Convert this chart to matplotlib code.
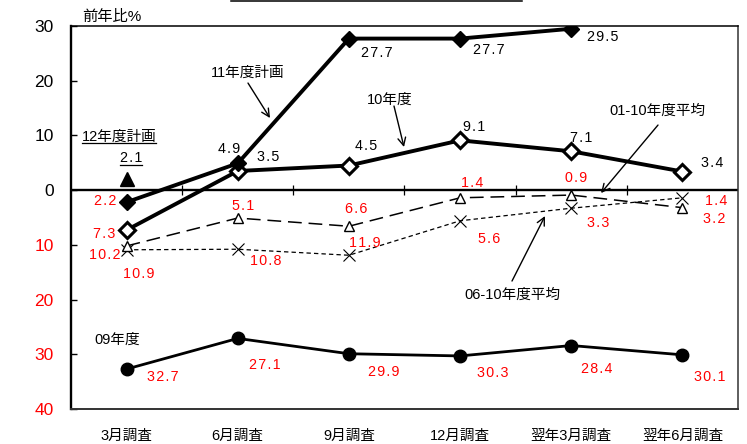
import matplotlib
matplotlib.use('Agg')
import matplotlib.pyplot as plt
import numpy as np
from matplotlib.lines import Line2D

plt.rcParams['font.family'] = ['Liberation Sans', 'Noto Sans CJK JP', 'DejaVu Sans']

# ---------------- data ----------------
categories = ['3月調査', '6月調査', '9月調査', '12月調査', '翌年3月調査', '翌年6月調査']
plan11 = [-2.2, 4.9, 27.7, 27.7, 29.5]
fy10 = [-7.3, 3.5, 4.5, 9.1, 7.1, 3.4]
avg0110 = [-10.2, -5.1, -6.6, -1.4, -0.9, -3.2]
avg0610 = [-10.9, -10.8, -11.9, -5.6, -3.3, -1.4]
fy09 = [-32.7, -27.1, -29.9, -30.3, -28.4, -30.1]
plan12 = [2.1]
yticks = [30, 20, 10, 0, -10, -20, -30, -40]

# label offsets (pixels, dx, dy up) for value labels
off_plan11 = [(-21, 2), (-9, 15), (28, -13), (29, -10), (31, -7)]
off_fy10 = [(-22, -3), (30, 15), (17, 21), (14, 14), (10, 14), (30, 10)]
off_avg0110 = [(-22, -8), (5, 13), (7, 18), (12, 16), (5, 18), (32, -10)]
off_avg0610 = [(12, -23), (28, -11), (16, 13), (29, -17), (27, -14), (34, -2)]
off_fy09 = [(36, -7), (27, -26), (35, -17), (33, -16), (25, -22), (27, -21)]

RED = '#FF0000'
SP = '\u200a'

fig = plt.figure(figsize=(7.47, 4.44), dpi=100)
ax = fig.add_axes([71 / 747, 1 - 409 / 444, (738 - 71) / 747, (409 - 26) / 444])
ax.set_xlim(-0.5, len(categories) - 0.5)
ax.set_ylim(-40, 30)

x_all = np.arange(len(categories))

# zero line + ticks on it
ax.axhline(0, color='black', lw=1.7, zorder=2)
ax.vlines(x_all[:-1] + 0.5, -0.9, 0.9, color='black', lw=0.9, zorder=2)

# series
ax.plot(x_all, avg0610, color='black', lw=0.9, dashes=(3.5, 2.5),
        marker='x', ms=8, mew=0.8, zorder=3)
ax.plot(x_all, avg0110, color='black', lw=1.1, dashes=(9, 4.5),
        marker='^', ms=7, mfc='white', mec='black', mew=1.0, zorder=4)
ax.plot(x_all, fy09, color='black', lw=2.0, marker='o', ms=9, zorder=4)
ax.plot(x_all, fy10, color='black', lw=2.8, marker='D', ms=8.5, mfc='white',
        mec='black', mew=2.2, zorder=5)
ax.plot(x_all[:len(plan11)], plan11, color='black', lw=2.8, marker='D', ms=8,
        mfc='black', mec='black', mew=1.0, zorder=6)
ax.plot(x_all[:len(plan12)], plan12, ls='none', marker='^', ms=10,
        color='black', zorder=6)

def fmt(v):
    return SP.join(f"{abs(v):.1f}")

def labels(vals, offs):
    for i, (v, (dx, dy)) in enumerate(zip(vals, offs)):
        ax.annotate(fmt(v), xy=(x_all[i], v), xytext=(dx, dy - 5),
                    textcoords='offset pixels', ha='center', va='baseline',
                    fontsize=10.3, color=RED if v < 0 else 'black',
                    family=['Liberation Sans'], zorder=7)

labels(plan11, off_plan11)
labels(fy10, off_fy10)
labels(avg0110, off_avg0110)
labels(avg0610, off_avg0610)
labels(fy09, off_fy09)

# axes styling
ax.set_yticks(yticks)
ax.set_yticklabels([str(abs(t)) for t in yticks])
for t, lab in zip(yticks, ax.get_yticklabels()):
    lab.set_color(RED if t < 0 else 'black')
ax.tick_params(axis='y', direction='in', length=4, width=1, pad=12.5,
               labelsize=12.5)
ax.set_xticks(x_all)
ax.set_xticklabels(categories)
ax.tick_params(axis='x', length=0, pad=14, labelsize=10.5)

ax.spines['left'].set_linewidth(1.7)
ax.spines['left'].set_color('black')
ax.spines['top'].set_linewidth(1.1)
ax.spines['top'].set_color('black')
ax.spines['right'].set_linewidth(1.1)
ax.spines['right'].set_color('#333333')
ax.spines['bottom'].set_linewidth(1.4)
ax.spines['bottom'].set_color('#333333')

# annotations
def px2data(px, py):
    x = (px - 71) / ((738 - 71) / 6) - 0.5
    y = (190.1 - py) / (383 / 70)
    return x, y

arrow_kw = dict(arrowstyle='->', color='black', lw=1.0, mutation_scale=14,
                shrinkA=0, shrinkB=0)

def note(text, tpos, tail=None, head=None, fs=10.5):
    ax.text(*px2data(*tpos), text, ha='center', va='center', fontsize=fs,
            zorder=8)
    if tail is not None:
        ax.annotate('', xy=px2data(*head), xytext=px2data(*tail),
                    arrowprops=arrow_kw, zorder=8)

note('11年度計画', (248, 73), (248, 83), (270, 118))
note('10年度', (390, 100), (394, 106), (404, 147))
note('01-10年度平均', (657, 111), (658, 125), (601, 193))
note('06-10年度平均', (512, 295), (512, 281), (545, 216))
note('09年度', (117, 340))

t12 = ax.text(*px2data(119, 137), '12年度計画', ha='center', va='center',
              fontsize=10.5, zorder=8)
t21 = ax.text(*px2data(131, 158), SP.join('2.1'), ha='center', va='center',
              fontsize=10.3, zorder=8, family=['Liberation Sans'])

fig.text(112 / 747, 1 - 17 / 444, '前年比%', ha='center', va='center',
         fontsize=11)

# decorative title underline at very top
fig.add_artist(Line2D([231 / 747, 522 / 747], [1 - 1.5 / 444, 1 - 1.5 / 444],
                      color='black', lw=1.1, transform=fig.transFigure))

# underline texts
fig.canvas.draw()
r = fig.canvas.get_renderer()
for t, ypx in ((t12, 143.5), (t21, 164.5)):
    bb = t.get_window_extent(r)
    yy = 1 - ypx / 444
    fig.add_artist(Line2D([bb.x0 / 747, bb.x1 / 747], [yy, yy], color='black',
                          lw=0.9, transform=fig.transFigure))

fig.savefig('out.png', dpi=100)
